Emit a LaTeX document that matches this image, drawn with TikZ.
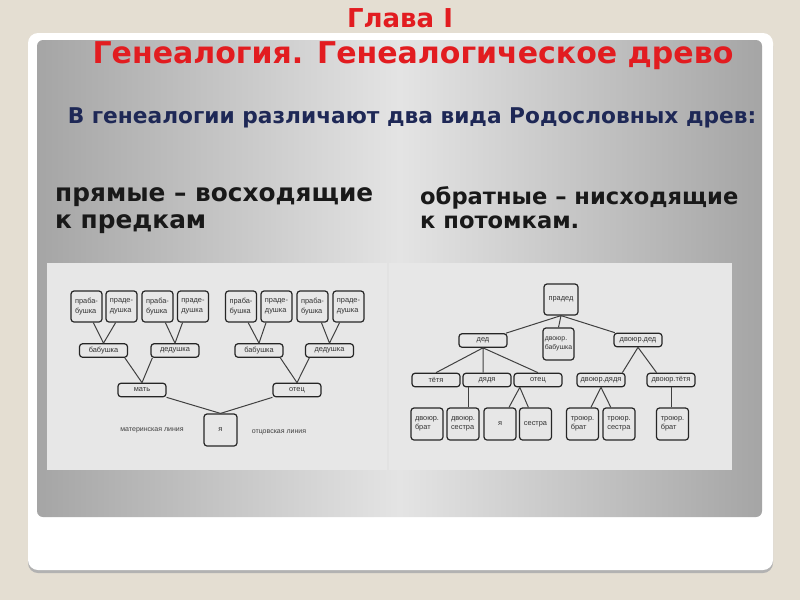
\documentclass[tikz,border=0pt]{standalone}
\usepackage{fontspec}
\setmainfont{DejaVu Sans}
\newfontfamily\treefont{Liberation Sans}

\definecolor{beige}{RGB}{228,222,210}
\definecolor{edgegray}{RGB}{165,165,165}
\definecolor{midgray}{RGB}{228,228,228}
\definecolor{treegray}{RGB}{231,231,231}
\definecolor{titlered}{RGB}{226,28,32}
\definecolor{navy}{RGB}{30,40,86}

\tikzset{
  kin/.style={draw=black!85,line width=1.2pt,rounded corners=3pt,fill=treegray,inner sep=0pt,
    align=center,text=black!80,font=\treefont\fontsize{7.4}{9.5}\selectfont},
  wide/.style={kin,minimum width=48pt,minimum height=13.5pt},
  sq/.style={kin,align=left,minimum width=31pt,minimum height=31pt},
  link/.style={draw=black!75,line width=1pt},
  note/.style={text=black!75,font=\treefont\fontsize{7}{8}\selectfont}
}

\begin{document}
\begin{tikzpicture}[x=1pt,y=-1pt]
	% slide background
	\fill[beige] (0,0) rectangle (800,600);
	\fill[black!30,rounded corners=10pt] (28,36) rectangle (773,573);
	\fill[white,rounded corners=10pt] (28,33) rectangle (773,570);
	\shade[rounded corners=6pt,left color=edgegray,right color=edgegray,middle color=midgray] (37,40) rectangle (762,517);

	% headings
	\node[anchor=base,text=titlered,font=\bfseries\fontsize{26}{30}\selectfont] (chapter) at (400,27.5) {Глава I};
	\node[anchor=base,text=titlered,font=\bfseries\fontsize{30}{32}\selectfont] (title) at (413,63) {Генеалогия. Генеалогическое древо};
	\node[anchor=base,text=navy,font=\bfseries\fontsize{21.7}{22}\selectfont] (sub) at (412,123) {В генеалогии различают два вида Родословных древ:};
	\node[anchor=base west,align=left,inner sep=0pt,text=black!90,font=\bfseries\fontsize{24.8}{27}\selectfont] (asc) at (55,228) {прямые – восходящие\\к предкам};
	\node[anchor=base west,align=left,inner sep=0pt,text=black!90,font=\bfseries\fontsize{22.6}{24}\selectfont] (desc) at (420,228) {обратные – нисходящие\\к потомкам.};

	% tree panels
	\fill[treegray] (47,263) rectangle (387,470);
	\fill[treegray] (389,263) rectangle (732,470);

	% ascending tree
	\foreach \n/\x/\t in {1/86.5/праба-,2/121.5/праде-,3/157.5/праба-,4/193/праде-,5/241/праба-,6/276.5/праде-,7/312.5/праба-,8/348.5/праде-} {
		\ifodd\n
		\node[sq] (pb\n) at (\x,306.5) {\t\\бушка};
		\else
		\node[sq] (pb\n) at (\x,306.5) {\t\\душка};
		\fi
	}
	\node[wide] (bab1) at (103.5,350.5) {бабушка};
	\node[wide] (ded1) at (175,350.5) {дедушка};
	\node[wide] (bab2) at (259,350.5) {бабушка};
	\node[wide] (ded2) at (329.5,350.5) {дедушка};
	\node[wide] (mat) at (142,390) {мать};
	\node[wide] (otec) at (297,390) {отец};
	\node[kin,minimum width=33pt,minimum height=32pt] (me) at (220.5,430) {я};
	\node[note] (mline) at (152,430) {материнская линия};
	\node[note] (oline) at (279,432) {отцовская линия};

	\draw[link] (pb1.-67) -- (bab1.north) (pb2.250) -- (bab1.north);
	\draw[link] (pb3.-64) -- (ded1.north) (pb4.237) -- (ded1.north);
	\draw[link] (pb5.-66) -- (bab2.north) (pb6.237) -- (bab2.north);
	\draw[link] (pb7.-61) -- (ded2.north) (pb8.241) -- (ded2.north);
	\draw[link] (bab1.-19) -- (mat.north) (ded1.198) -- (mat.north);
	\draw[link] (bab2.-19) -- (otec.north) (ded2.200) -- (otec.north);
	\draw[link] (mat.south east) -- (me.north) (otec.south west) -- (me.north);

	% descending tree
	\node[sq,minimum width=34pt] (praded) at (561,299.5) {прадед};
	\node[wide] (ded) at (483,340.5) {дед};
	\node[sq,minimum width=31pt,minimum height=32pt,font=\treefont\fontsize{6.9}{9.5}\selectfont] (dbab) at (558.5,344) {двоюр.\\бабушка};
	\node[wide] (dded) at (638,340) {двоюр.дед};
	\node[wide] (tetya) at (436,380) {тётя};
	\node[wide] (dyadya) at (487,380) {дядя};
	\node[wide] (father) at (538,380) {отец};
	\node[wide] (ddyadya) at (601,380) {двоюр.дядя};
	\node[wide] (dtetya) at (671,380) {двоюр.тётя};
	\foreach \nm/\x/\t in {dbrat/427/{двоюр.\\брат},dsestra/463/{двоюр.\\сестра},self/500/я,sestra/535.5/сестра,tbrat/582.5/{троюр.\\брат},tsestra/619/{троюр.\\сестра},tbrat2/672.5/{троюр.\\брат}}
		\node[sq,minimum width=32pt,minimum height=32pt] (\nm) at (\x,424) {\t};

	\draw[link] (praded.south) -- (ded) (praded.south) -- (dbab.north) (praded.south) -- (dded);
	\draw[link] (ded.south) -- (tetya.north) (ded.south) -- (ded.south |- dyadya.north) (ded.south) -- (father.north);
	\draw[link] (dyadya.202) -- (dyadya.202 |- dsestra.north);
	\draw[link] (father.202) -- (self) (father.202) -- (sestra);
	\draw[link] (dded.south) -- (ddyadya.19) (dded.south) -- (dtetya.153);
	\draw[link] (ddyadya.south) -- (tbrat) (ddyadya.south) -- (tsestra);
	\draw[link] (dtetya.south) -- (dtetya.south |- tbrat2.north);
\end{tikzpicture}
\end{document}
